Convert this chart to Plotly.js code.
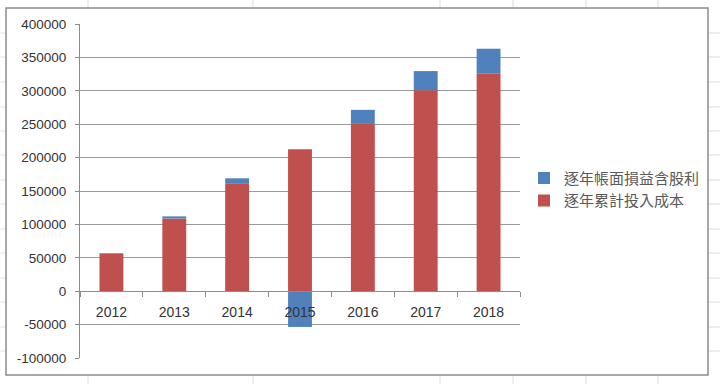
<!DOCTYPE html>
<html>
<head>
<meta charset="utf-8">
<script src="https://cdn.plot.ly/plotly-3.0.1.min.js"></script>
<style>
html,body{margin:0;padding:0;background:#fff;}
#chart{width:720px;height:384px;}
</style>
</head>
<body>
<div id="chart"></div>
<script>
// Data
const years = ['2012', '2013', '2014', '2015', '2016', '2017', '2018'];
const costName = '逐年累計投入成本';
const costValues = [56000, 109000, 161500, 212500, 250500, 301000, 325500];
const gainName = '逐年帳面損益含股利';
const gainValues = [1000, 3000, 7500, -53500, 21000, 28500, 37500];
const yTicks = [-100000, -50000, 0, 50000, 100000, 150000, 200000, 250000, 300000, 350000, 400000];

// plot area in pixels (for decoration shapes)
const L = 80, R = 520, T = 24, B = 358;
const px = x => (x - L) / (R - L);
const py = y => (B - y) / (B - T);

const shapes = [];
// faint spreadsheet grid behind the chart frame
const sheetCols = [88, 253, 440, 513, 586, 658];
const sheetRows = [33, 57, 82, 107, 131, 155, 180, 204, 229, 253, 278, 302, 327, 351];
sheetCols.forEach(x => {
  shapes.push({type:'line', xref:'paper', yref:'paper', x0:px(x), x1:px(x), y0:py(0), y1:py(8), line:{color:'#dcdcdc', width:1}, layer:'below'});
  shapes.push({type:'line', xref:'paper', yref:'paper', x0:px(x), x1:px(x), y0:py(375), y1:py(384), line:{color:'#dcdcdc', width:1}, layer:'below'});
});
sheetRows.forEach(y => {
  shapes.push({type:'line', xref:'paper', yref:'paper', x0:px(708), x1:px(720), y0:py(y), y1:py(y), line:{color:'#dcdcdc', width:1}, layer:'below'});
  shapes.push({type:'line', xref:'paper', yref:'paper', x0:px(0), x1:px(6), y0:py(y), y1:py(y), line:{color:'#e4e4e4', width:1}, layer:'below'});
});
// chart frame
shapes.push({type:'rect', xref:'paper', yref:'paper', x0:px(6), x1:px(708), y0:py(8), y1:py(375), line:{color:'#8c8c8c', width:1.5}, layer:'below'});

const traces = [
  {type:'bar', name:costName, x:years, y:costValues, marker:{color:'#C0504D'}, legendrank:2},
  {type:'bar', name:gainName, x:years, y:gainValues, marker:{color:'#4F81BD'}, legendrank:1}
];

const layout = {
  width:720, height:384,
  margin:{l:L, r:720-R, t:T, b:384-B, pad:0},
  paper_bgcolor:'#ffffff', plot_bgcolor:'#ffffff',
  barmode:'relative', bargap:0.62,
  font:{family:'Liberation Sans, Arial, sans-serif', color:'#404040', size:13},
  showlegend:true,
  legend:{x:px(524), xanchor:'left', y:0.505, yanchor:'middle', traceorder:'normal',
          font:{family:'Noto Sans CJK TC, sans-serif', size:15, color:'#595959'}, bgcolor:'rgba(0,0,0,0)', itemwidth:30},
  xaxis:{type:'category', anchor:'free', position:0.2, showline:true, linecolor:'#8c8c8c', linewidth:1,
         ticks:'outside', tickson:'boundaries', ticklen:5, tickcolor:'#8c8c8c', showgrid:false,
         tickfont:{size:14, color:'#333333'}, ticklabelstandoff:8, fixedrange:true},
  yaxis:{range:[-100000, 400000], tickvals:yTicks, ticktext:yTicks.map(String), showline:true, linecolor:'#8c8c8c',
         ticks:'outside', ticklen:4, tickcolor:'#8c8c8c', showgrid:true, gridcolor:'#9a9a9a', gridwidth:1,
         zeroline:false, tickfont:{size:13.5, color:'#333333'}, ticklabelstandoff:6, fixedrange:true},
  shapes:shapes
};

Plotly.newPlot('chart', traces, layout, {staticPlot:true, displayModeBar:false});
</script>
</body>
</html>
